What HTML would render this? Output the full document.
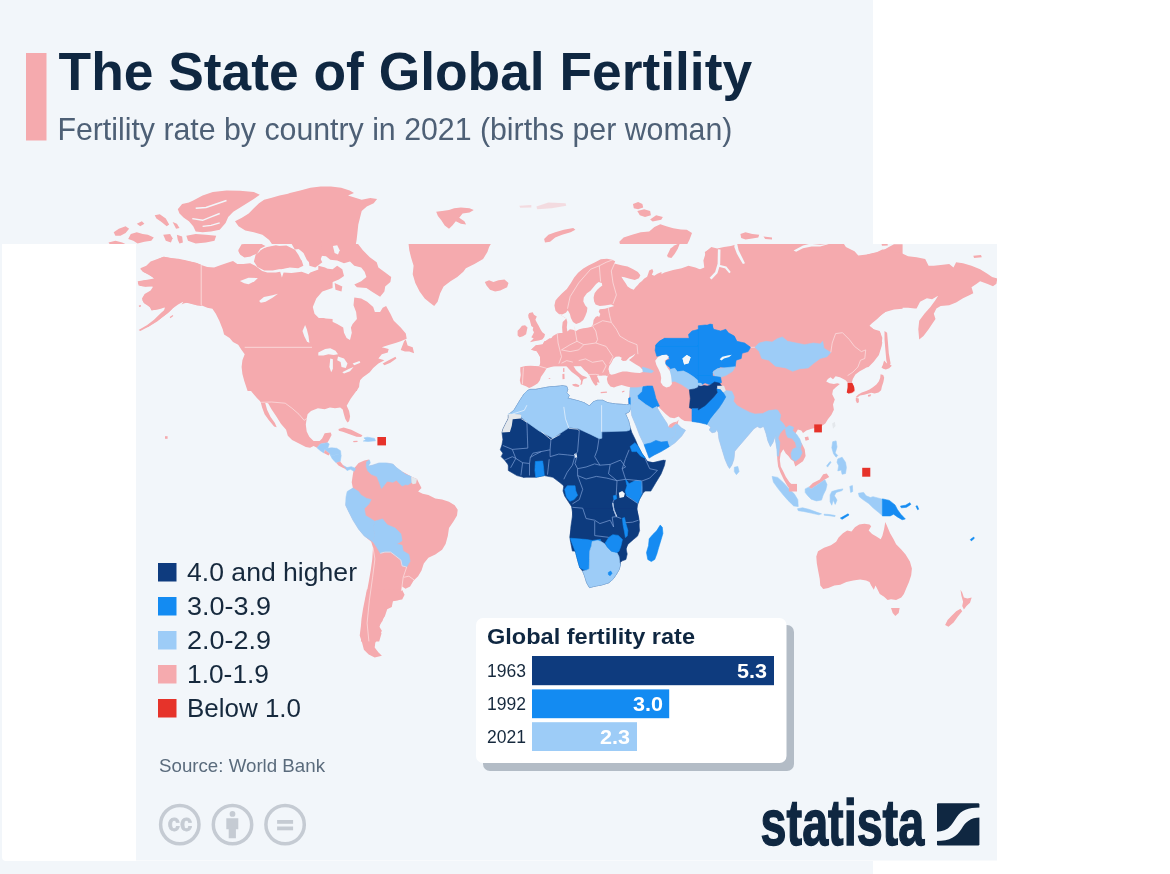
<!DOCTYPE html>
<html lang="en">
<head>
<meta charset="utf-8">
<title>The State of Global Fertility</title>
<style>
html,body{margin:0;padding:0;background:#ffffff;}
body{width:1170px;height:874px;overflow:hidden;position:relative;font-family:"Liberation Sans",sans-serif;}
svg{position:absolute;left:0;top:0;display:block;}
text{font-family:"Liberation Sans",sans-serif;}
.b{font-weight:bold;}
</style>
</head>
<body>
<svg width="1170" height="874" viewBox="0 0 1170 874">
<defs>
<clipPath id="cb"><rect x="0" y="0" width="873" height="244"/></clipPath>
<clipPath id="cf"><rect x="136" y="244" width="861" height="616.5"/></clipPath>
<filter id="soft" x="0" y="0" width="1170" height="874" filterUnits="userSpaceOnUse"><feGaussianBlur stdDeviation="0.45"/></filter>
<filter id="soft2" x="0" y="0" width="1170" height="874" filterUnits="userSpaceOnUse"><feGaussianBlur stdDeviation="0.7"/></filter>
</defs>
<!-- back image -->
<rect x="0" y="0" width="873" height="874" fill="#f2f6fa"/>
<g clip-path="url(#cb)"><g filter="url(#soft2)">
<polygon points="177.8,209.2 182.1,204.1 188.9,202.4 193.2,200.6 202.6,195.5 212.8,192.1 226.5,190.4 240.2,190.7 253.8,192.1 259.8,194.7 253.8,198.9 247.0,203.2 240.2,207.5 233.3,211.8 228.2,216.9 225.6,222.9 219.7,229.7 211.1,231.4 202.6,232.3 195.7,231.4 193.2,226.3 188.9,221.2 183.8,217.7 179.5,213.5" fill="#f5aaae"/>
<polygon points="186.3,235.7 195.7,234.0 206.0,234.8 216.2,235.7 214.5,240.8 206.0,242.5 195.7,243.4 188.0,240.8" fill="#f5aaae"/>
<polygon points="154.7,215.2 159.8,214.3 165.8,218.6 169.2,224.6 166.7,226.3 161.5,222.0 156.4,218.6" fill="#f5aaae"/>
<polygon points="172.6,222.0 176.9,223.7 179.5,228.0 176.1,228.8" fill="#f5aaae"/>
<polygon points="113.7,232.3 118.8,228.8 125.6,226.3 129.1,228.8 125.6,233.1 120.5,235.7 115.4,235.7" fill="#f5aaae"/>
<polygon points="130.8,234.0 136.8,232.3 142.7,234.0 147.9,234.8 153.8,237.4 151.3,240.8 144.4,241.7 137.6,243.4 133.3,240.8 128.2,239.1" fill="#f5aaae"/>
<polygon points="136.8,223.7 141.9,221.2 144.4,223.7 140.2,226.3" fill="#f5aaae"/>
<polygon points="163.2,234.8 170.1,234.0 172.6,238.2 170.9,242.5 165.8,240.8" fill="#f5aaae"/>
<polygon points="176.9,234.8 182.1,236.5 182.9,242.5 179.5,243.4 177.8,240.0" fill="#f5aaae"/>
<polygon points="108.5,242.5 115.4,240.8 122.2,242.5 127.4,245.1 110.3,245.1" fill="#f5aaae"/>
<polygon points="235.0,221.2 241.9,217.7 248.7,213.5 253.8,208.3 259.0,203.2 264.1,199.8 270.9,198.1 279.5,195.5 288.0,193.8 289.9,192.9 300.2,190.4 310.4,187.8 320.7,186.6 330.9,186.6 341.2,187.8 349.7,190.4 354.0,192.9 348.0,195.5 361.7,199.8 370.3,198.1 377.1,198.9 373.7,203.2 366.8,206.6 361.7,210.9 360.0,217.7 358.3,224.6 357.4,233.1 356.6,240.0 355.7,245.1 272.6,245.1 269.2,240.0 262.4,234.8 253.8,232.3 245.3,230.6 238.5,226.3" fill="#f5aaae"/>
<polygon points="436.2,211.8 442.1,210.9 449.0,210.0 454.1,208.3 460.9,207.5 469.5,208.3 473.8,210.0 469.5,212.6 462.6,213.5 459.2,217.7 464.4,221.2 466.1,224.6 460.9,223.7 455.8,221.2 452.4,225.4 449.0,228.8 444.7,225.4 441.3,220.3 437.9,216.0" fill="#f5aaae"/>
<polygon points="519.3,205.8 531.3,204.9 531.3,207.5 520.2,207.8" fill="#f5aaae" opacity="0.35"/>
<polygon points="536.4,206.6 548.4,202.4 565.5,203.2 566.3,205.8 551.8,208.3 537.3,209.2" fill="#f5aaae" opacity="0.35"/>
<polygon points="544.1,239.1 548.4,234.8 555.2,232.3 563.8,229.7 573.2,228.0 575.4,229.7 570.6,232.3 562.1,234.8 555.2,237.4 550.1,241.7 545.0,242.5" fill="#f5aaae"/>
<polygon points="633.0,204.1 638.1,202.0 642.4,204.1 643.2,207.5 638.1,209.2 633.8,208.3" fill="#f5aaae"/>
<polygon points="637.3,210.9 644.1,209.2 650.1,210.9 650.9,215.2 645.0,216.9 639.8,215.2" fill="#f5aaae"/>
<polygon points="650.1,219.4 656.1,215.2 662.9,216.9 661.2,219.8 652.6,221.5" fill="#f5aaae"/>
<polygon points="619.3,241.7 623.6,237.4 632.1,234.8 640.7,232.3 649.2,231.4 654.4,227.1 660.3,224.2 666.3,226.3 673.2,228.3 680.9,229.4 686.8,229.7 692.0,233.1 689.4,240.0 686.8,245.1 620.2,245.1" fill="#f5aaae"/>
<polygon points="740.4,234.0 745.5,232.3 752.3,234.0 759.2,234.8 758.3,237.4 752.3,238.6 745.5,239.6 741.2,237.9" fill="#f5aaae"/>
<polygon points="763.5,236.5 772.0,237.4 772.0,239.6 765.2,239.1" fill="#f5aaae"/>
<polyline points="195.7,208.3 206.0,207.5 216.2,204.1 226.5,200.6" fill="none" stroke="#f2f6fa" stroke-width="1.6"/>
<polyline points="192.3,218.6 202.6,220.3 211.1,216.9 219.7,213.5" fill="none" stroke="#f2f6fa" stroke-width="1.4"/>
<polyline points="202.6,226.3 211.1,225.4 219.7,222.9" fill="none" stroke="#f2f6fa" stroke-width="1.2"/>
</g></g>
<rect x="26" y="53" width="20.5" height="87.5" fill="#f5aaae"/>
<text class="b" x="58.6" y="90" font-size="53" fill="#0f2741" textLength="693.5" lengthAdjust="spacingAndGlyphs">The State of Global Fertility</text>
<text x="57.4" y="140.2" font-size="31.5" fill="#4e6076" textLength="675" lengthAdjust="spacingAndGlyphs">Fertility rate by country in 2021 (births per woman)</text>
<!-- white card -->
<path d="M2 244H1170V861H6a4 4 0 0 1-4-4Z" fill="#ffffff"/>
<!-- front image -->
<rect x="136" y="244" width="861" height="616.5" fill="#f2f6fa"/>
<g clip-path="url(#cf)"><g filter="url(#soft)">
<polygon points="201.2,264.9 195.2,262.7 186.7,260.9 178.1,259.2 171.2,258.0 163.5,256.7 157.5,258.9 150.6,261.5 146.3,265.8 140.3,268.3 142.9,271.8 148.9,274.3 154.0,278.6 147.2,279.8 137.7,281.2 138.6,285.5 145.5,286.7 153.2,286.4 150.6,290.6 144.6,294.1 142.0,298.4 143.7,302.7 148.9,305.2 151.5,310.4 157.5,308.7 162.6,307.0 166.9,307.8 160.9,313.0 154.0,319.8 147.2,325.0 138.6,330.1 140.3,331.0 148.9,326.4 157.5,321.2 166.1,314.3 172.9,308.3 178.1,304.4 183.2,301.8 186.7,302.7 193.5,304.4 201.2,305.2 207.3,307.8 212.4,308.7 215.8,313.8 219.3,320.7 222.7,329.3 224.1,334.4 229.6,337.9 233.0,342.1 238.2,344.7 241.6,349.9 244.7,354.2 242.4,360.2 241.6,367.0 242.4,373.9 244.2,380.8 247.6,391.1 332.6,391.1 332.6,319.0 318.8,318.1 314.5,313.8 312.8,307.0 316.3,298.4 322.3,291.5 332.6,288.1 332.6,269.2 324.0,268.3 317.1,270.0 310.3,272.6 308.5,274.3 301.7,271.8 291.4,273.0 283.6,272.6 281.9,277.4 280.2,271.8 275.9,272.6 267.3,272.6 262.2,270.9 255.3,265.8 250.2,263.2 243.3,264.0 237.3,264.0 233.0,260.9 226.1,263.2 221.0,264.9 214.1,267.5 207.3,267.1" fill="#f5aaae"/>
<polygon points="238.2,250.3 241.6,244.3 250.2,243.4 260.5,243.8 265.6,246.0 260.5,248.6 257.0,253.7 250.2,256.3 243.3,256.3 239.9,253.7" fill="#f5aaae"/>
<polygon points="257.0,256.3 260.5,250.3 267.3,246.9 275.9,245.2 284.5,246.9 291.4,252.0 294.8,257.2 301.7,260.6 303.4,265.8 298.2,268.3 289.7,267.5 281.1,269.2 272.5,268.3 265.6,265.8 260.5,261.5" fill="#f5aaae"/>
<polygon points="308.5,258.9 318.8,255.5 322.3,262.3 315.4,267.5 309.4,265.8" fill="#f5aaae"/>
<polygon points="291.4,243.4 301.7,242.6 303.4,248.6 294.8,249.4" fill="#f5aaae"/>
<polygon points="318.8,243.4 332.6,242.6 332.6,255.5 324.0,253.7" fill="#f5aaae"/>
<polygon points="408.4,242.6 409.3,250.3 411.0,257.2 413.6,265.8 412.7,274.3 415.3,282.9 419.6,291.5 424.7,298.4 429.9,302.7 434.2,306.1 437.6,301.8 440.2,293.2 443.6,286.4 450.5,281.2 457.3,276.9 463.3,271.8 465.9,268.3 474.5,264.0 483.1,258.9 487.4,252.0 489.1,246.9 491.7,242.6" fill="#f5aaae"/>
<polygon points="484.8,282.1 489.1,280.3 493.4,282.1 498.5,280.3 504.5,279.5 508.5,282.9 507.1,287.2 500.3,290.6 495.1,291.5 490.0,289.8 486.5,285.5" fill="#f5aaae"/>
<polygon points="318.3,242.6 356.9,242.6 362.9,250.3 369.8,257.2 376.7,262.3 378.4,267.5 385.2,272.6 391.2,276.9 390.4,282.1 385.2,286.4 384.4,291.5 380.1,296.7 373.2,292.4 366.4,288.1 356.9,287.2 354.3,284.6 361.2,281.2 366.4,276.9 364.6,271.8 361.2,267.5 354.3,265.8 350.0,261.5 344.0,263.2 337.2,260.6 330.3,259.7 326.0,256.3 318.3,255.5" fill="#f5aaae"/>
<polygon points="318.3,265.8 325.2,267.5 330.3,270.9 337.2,265.8 342.3,269.2 344.0,276.1 338.9,279.5 330.3,282.9 325.2,289.8 318.3,293.2" fill="#f5aaae"/>
<polygon points="334.6,282.9 342.3,286.4 341.5,291.5 335.5,289.8" fill="#f5aaae"/>
<polygon points="318.3,318.1 323.4,318.1 330.3,320.7 337.2,324.1 343.2,327.6 344.0,332.7 346.6,337.9 350.0,339.9 351.8,332.7 350.9,327.6 352.6,324.1 356.9,319.0 356.1,312.1 353.5,305.2 354.3,297.5 361.2,298.4 367.2,301.8 373.2,307.0 374.9,312.1 380.1,312.1 382.7,307.8 386.1,306.1 390.4,313.8 393.8,320.7 400.7,327.6 405.8,333.6 406.7,338.7 400.7,341.3 395.5,343.0 388.7,345.1 381.8,347.3 388.7,349.0 387.8,352.4 381.8,354.2 378.4,358.5 384.4,360.2 378.4,363.6 373.2,367.9 369.8,372.2 366.4,374.8 362.9,377.3 360.3,379.9 358.6,384.2 356.9,391.1 318.3,391.1" fill="#f5aaae"/>
<polygon points="400.7,349.9 404.1,341.3 405.8,339.6 407.6,345.6 412.7,347.3 414.1,353.3 409.3,351.6 405.0,351.6" fill="#f5aaae"/>
<polygon points="382.7,363.6 388.7,360.2 395.5,356.7 396.4,358.5 390.4,362.7 384.4,365.3" fill="#f5aaae"/>
<polygon points="244.0,378.3 247.5,386.0 251.8,392.0 256.9,398.0 261.2,402.3 268.1,403.2 271.5,409.2 276.7,416.9 280.9,423.8 286.1,429.8 287.8,435.8 292.1,440.1 299.0,443.5 305.8,447.0 310.1,447.8 313.6,446.1 317.0,447.8 320.4,443.9 327.3,442.7 329.0,440.1 331.6,434.9 330.7,432.4 324.7,433.2 322.1,438.4 319.6,440.9 313.6,440.9 309.3,436.7 306.7,431.5 305.8,424.6 306.7,418.6 307.6,414.3 311.0,410.9 317.9,408.3 324.7,409.2 329.9,407.5 335.0,408.3 340.2,407.5 342.7,409.5 343.9,414.3 345.3,419.1 347.4,422.4 349.1,421.2 350.1,416.4 349.1,410.9 346.7,405.8 350.5,398.9 355.6,392.0 359.1,386.9 359.9,378.3" fill="#f5aaae"/>
<polygon points="260.3,400.6 262.1,407.5 264.6,414.3 268.9,420.3 274.1,426.4 276.7,427.2 274.9,422.9 270.6,416.9 267.2,410.0 265.5,404.0 265.0,401.5" fill="#f5aaae"/>
<polygon points="338.5,428.9 343.6,427.4 351.3,429.8 358.2,433.2 362.5,435.3 361.1,437.0 356.5,436.7 349.6,434.2 342.7,431.8 338.8,430.8" fill="#f5aaae"/>
<polygon points="353.0,440.9 357.3,440.8 357.7,442.1 353.6,442.3" fill="#f5aaae"/>
<polygon points="354.0,468.6 358.6,462.9 364.3,460.6 368.9,459.5 370.0,462.9 367.8,466.3 372.3,465.2 379.2,462.9 386.1,462.9 392.9,464.0 396.4,467.5 400.9,470.9 405.5,473.2 411.2,476.6 417.0,478.9 419.2,483.5 421.5,488.1 418.1,491.5 422.7,493.8 428.4,494.9 435.3,498.4 442.1,499.5 449.0,501.8 454.7,505.2 457.7,509.8 457.0,515.5 453.6,521.2 449.0,528.1 447.8,536.1 445.6,544.1 442.1,549.8 435.3,554.4 428.4,557.8 423.8,563.6 421.5,570.4 418.1,576.2 413.5,580.7 410.1,586.5 405.5,588.7 402.1,586.5 401.4,591.0 403.2,596.8 398.6,600.2 392.9,601.3 391.8,607.0 387.2,609.3 384.9,616.2 381.5,620.8 379.2,627.6 381.5,633.4 379.2,641.4 360.9,641.4 362.0,629.9 364.3,620.8 364.3,607.0 366.2,595.6 368.7,581.9 370.7,570.4 372.3,559.0 373.0,547.6 371.2,541.8 364.3,536.1 358.6,529.2 352.9,520.1 348.3,510.9 345.6,505.2 346.5,497.2 348.3,491.5 352.9,488.1 351.7,482.3 352.9,474.3" fill="#f5aaae"/>
<polygon points="366.9,589.4 364.9,599.6 363.0,609.1 361.5,618.7 360.9,625.9 359.7,635.5 362.1,642.7 363.9,649.8 368.7,654.6 374.7,657.6 381.9,655.8 378.3,652.2 374.7,647.4 375.3,642.7 378.3,637.9 381.9,630.7 378.9,625.9 382.5,621.1 384.9,613.9 384.3,609.1 390.3,606.8 392.7,600.8 402.2,599.6 404.6,594.8 402.2,590.0" fill="#f5aaae"/>
<polygon points="539.4,366.4 540.4,362.6 539.9,356.4 536.8,351.2 531.1,349.7 535.8,345.6 542.6,344.7 544.3,341.3 549.5,340.4 552.9,336.1 557.2,333.6 560.0,333.0 655.1,333.0 655.1,276.1 661.1,274.3 664.5,272.6 673.1,270.0 681.7,268.3 688.5,265.8 695.4,267.5 704.0,270.9 712.6,269.2 712.6,365.3" fill="#f5aaae"/>
<polygon points="563.2,342.7 562.1,327.3 562.7,322.1 566.3,318.5 558.5,313.7 555.5,310.8 554.4,305.6 555.5,300.5 558.0,297.4 562.1,293.3 566.8,289.1 570.9,283.0 574.0,277.8 578.1,272.7 583.3,268.5 588.4,265.5 594.6,262.4 600.8,259.3 607.0,258.8 612.1,259.8 615.2,261.3 614.2,263.4 618.3,264.4 622.4,265.5 627.6,266.5 632.7,269.1 637.9,272.1 640.4,275.2 638.9,278.3 634.8,279.9 629.6,278.8 624.5,277.3 621.4,276.8 623.4,279.9 625.5,283.0 627.6,286.6 630.6,288.6 633.7,289.7 635.8,287.1 637.9,285.0 639.4,283.0 642.0,280.9 644.0,278.8 647.1,276.8 648.2,273.7 649.2,270.6 652.3,269.1 653.3,271.6 651.8,274.7 654.3,275.8 657.4,273.7 661.5,272.1 661.5,342.7" fill="#f5aaae"/>
<polygon points="529.2,313.0 532.7,312.3 534.0,314.7 536.8,316.4 535.4,319.8 536.8,322.6 538.8,326.0 540.6,329.4 542.3,332.2 545.0,334.2 544.3,337.0 542.3,339.4 538.8,340.4 535.4,341.1 532.0,341.8 529.9,342.3 532.0,340.1 533.7,338.4 531.3,337.3 532.7,334.9 534.0,332.2 532.7,330.1 533.3,327.4 531.3,326.0 530.6,323.3 529.9,320.5 528.5,317.8 528.2,315.0" fill="#f5aaae"/>
<polygon points="517.6,330.8 519.6,328.8 522.0,325.7 525.1,325.3 527.5,327.4 526.8,330.8 526.1,334.2 523.0,336.3 519.6,337.3 517.6,335.6" fill="#f5aaae"/>
<polygon points="667.1,255.5 670.5,248.6 674.8,245.2 680.0,243.1 677.9,248.6 674.8,253.7 671.4,258.0 667.9,257.2" fill="#f5aaae"/>
<polygon points="704.8,252.0 710.0,248.6 712.6,248.6 712.6,265.8 707.4,264.0" fill="#f5aaae"/>
<polygon points="549.5,338.3 544.3,341.7 542.6,344.3 535.8,345.2 531.1,349.8 536.8,351.3 539.9,356.5 540.4,362.7 539.4,366.3 530.6,365.8 525.5,365.9 520.3,367.3 520.3,370.9 520.8,375.0 519.8,380.2 520.8,384.3 523.4,385.3 526.5,386.4 529.1,387.9 531.6,386.9 534.7,385.3 537.8,383.3 539.9,380.2 540.9,377.1 543.0,374.0 545.0,370.9 546.6,368.3 550.2,367.3 553.3,366.3 556.4,365.8 559.4,364.2 561.5,363.2 563.6,363.9 566.1,365.8 568.7,368.8 571.8,371.9 575.9,375.0 579.0,377.6 581.1,380.7 580.6,384.3 580.0,385.3 582.1,384.3 582.6,381.2 583.6,379.1 585.7,378.6 587.3,378.1 586.2,377.1 582.1,375.5 579.0,373.0 575.9,369.9 573.3,365.8 571.6,362.1 571.8,359.6 574.4,358.5 577.0,362.1 580.6,365.8 584.2,369.9 587.3,372.4 588.8,374.5 589.8,376.1 591.4,379.7 593.4,383.3 595.5,385.8 597.6,384.8 597.0,382.2 599.6,382.7 598.6,379.7 597.0,376.1 599.1,375.0 601.7,375.5 604.8,374.0 607.9,373.0 610.4,372.4 607.9,375.5 606.8,379.1 607.9,383.3 610.4,386.4 614.0,387.4 616.4,386.4 621.6,385.0 626.7,386.4 630.2,387.2 629.8,391.5 628.8,398.4 628.1,403.5 630.2,404.4 630.7,407.8 631.7,415.5 636.0,425.8 639.6,435.3 644.1,444.7 647.3,453.3 649.1,458.1 654.2,455.0 661.1,451.6 667.9,447.3 674.8,443.0 681.7,436.1 685.5,430.3 681.2,427.7 677.7,424.3 678.6,419.5 675.2,424.3 671.7,427.7 668.3,426.9 667.1,423.4 664.8,420.0 661.4,414.8 657.6,408.5 658.0,406.3 661.4,409.7 665.7,414.0 670.0,417.4 674.3,418.3 678.6,416.6 681.2,419.1 684.6,420.9 692.0,421.5 698.8,422.4 705.7,424.1 712.6,425.8 712.6,338.3" fill="#f5aaae"/>
<polygon points="621.8,391.5 624.3,390.6 624.5,391.8 622.1,392.5" fill="#f5aaae"/>
<polygon points="600.6,392.0 606.8,391.5 607.0,392.7 600.8,393.2" fill="#f5aaae"/>
<polygon points="572.3,384.3 575.9,383.8 579.5,385.3 578.5,386.9 574.9,386.4 572.7,385.5" fill="#f5aaae"/>
<polygon points="562.4,374.0 564.4,373.8 564.6,379.1 562.5,379.3" fill="#f5aaae"/>
<polygon points="563.0,368.3 564.4,368.0 564.4,372.1 563.2,372.1" fill="#f5aaae"/>
<polygon points="548.6,378.3 550.2,377.9 550.3,378.8 548.8,379.0" fill="#f5aaae"/>
<polygon points="698.3,270.0 704.3,267.5 703.4,260.6 706.0,252.0 711.2,246.9 717.2,248.6 724.0,246.9 730.9,246.0 736.9,244.3 736.9,241.7 842.5,241.7 845.9,246.9 854.5,251.2 860.5,258.0 867.4,254.6 880.3,252.0 888.8,246.9 894.0,244.3 902.6,244.3 902.6,308.7 894.0,309.5 885.4,312.1 878.5,317.3 871.7,322.4 869.1,325.8 873.4,329.3 880.3,332.7 882.3,343.0 879.4,351.6 876.3,355.5 872.9,360.5 868.6,364.8 864.3,367.6 858.3,370.0 854.8,373.6 698.3,373.9" fill="#f5aaae"/>
<polygon points="884.5,331.0 887.1,332.7 888.0,343.0 888.8,353.3 890.6,363.6 888.0,367.0 886.3,360.2 885.4,349.9 884.5,339.6" fill="#f5aaae"/>
<polygon points="858.3,255.4 866.9,254.6 877.2,252.0 882.3,249.4 889.2,249.4 894.3,252.0 901.2,252.9 908.1,256.3 916.6,257.2 925.2,258.9 928.6,265.7 933.8,265.7 940.7,264.9 949.2,264.0 953.5,267.5 956.1,262.3 963.0,263.2 971.5,265.7 980.1,269.2 987.0,273.5 992.1,276.9 997.3,278.6 996.4,283.8 993.0,286.3 987.0,283.8 980.1,281.2 976.7,283.8 971.5,287.2 973.3,293.2 969.8,294.9 963.0,298.3 956.1,302.6 949.2,305.2 940.7,306.1 936.4,308.6 933.8,313.8 935.5,318.9 932.1,324.1 928.6,329.2 923.5,336.1 919.2,339.5 918.3,329.2 919.2,320.7 924.4,313.8 930.4,306.9 935.5,300.1 938.1,295.8 932.1,299.2 926.9,298.3 920.1,301.8 916.6,308.6 914.9,308.6 908.1,307.8 901.2,307.8 894.3,308.6 887.5,310.4 882.3,313.8 877.2,318.9 872.0,323.2 869.4,325.8 873.7,329.2 879.7,331.0 882.3,337.8 881.5,346.4 878.9,355.0 873.7,361.8 868.6,367.0 863.4,367.9 858.3,367.0" fill="#f5aaae"/>
<polygon points="881.5,243.8 887.5,243.4 887.8,245.5 882.0,245.7" fill="#f5aaae"/>
<polygon points="973.3,255.8 981.0,255.1 981.8,257.2 974.1,258.0" fill="#f5aaae"/>
<polygon points="698.3,358.3 871.7,358.3 869.1,365.2 864.8,368.6 859.7,371.2 855.4,374.6 852.8,378.9 851.9,382.3 854.5,387.5 854.5,391.8 851.1,393.5 848.0,393.5 847.3,389.2 848.5,384.0 845.9,380.6 843.3,378.9 839.9,377.2 835.6,376.3 833.0,379.2 830.5,377.2 827.9,378.9 826.2,381.5 829.6,383.2 833.9,384.0 837.3,383.2 839.9,384.0 835.6,387.5 833.0,390.0 832.2,394.3 834.8,399.5 833.0,404.6 833.9,409.8 831.3,414.9 827.9,419.2 825.3,423.5 820.2,427.0 811.6,428.7 806.4,430.4 803.0,433.0 801.3,430.4 797.9,429.5 795.3,433.8 798.7,439.0 802.1,444.1 804.7,449.3 805.6,456.1 803.0,461.3 797.9,464.7 795.3,466.4 793.6,461.3 791.0,459.6 788.4,456.1 785.8,453.6 783.3,449.3 780.7,453.6 779.8,459.6 780.7,466.4 783.3,471.6 785.8,476.7 789.3,481.9 793.6,486.2 796.1,490.5 791.0,490.5 787.6,486.2 784.1,480.2 780.7,473.3 778.1,466.4 777.3,459.6 776.9,449.3 775.5,440.7 775.5,435.5 773.0,442.4 770.4,446.7 767.8,440.7 766.1,433.8 764.4,428.7 763.5,426.6 760.1,428.0 757.3,426.6 753.9,428.7 750.5,432.8 746.4,437.6 742.2,442.4 738.1,447.2 734.7,451.3 734.0,458.9 731.9,465.1 729.5,468.5 727.8,465.8 725.1,459.6 723.0,452.7 720.9,445.8 718.9,439.0 718.2,432.8 716.8,429.4 715.5,432.1 712.0,432.8 709.3,430.0 710.6,427.3 707.9,424.5 705.8,423.9 702.4,420.4 696.9,418.4 696.9,411.5" fill="#f5aaae"/>
<polygon points="804.7,437.3 808.2,436.4 809.0,439.8 805.6,440.7" fill="#f5aaae"/>
<polygon points="880.6,374.3 880.2,377.8 878.9,381.2 876.4,384.6 872.9,387.2 869.5,389.4 866.1,391.1 861.8,392.5 858.3,394.5 855.8,397.1 857.0,397.7 860.0,395.6 864.3,394.7 867.8,393.8 871.2,392.7 874.6,393.6 878.5,392.4 881.1,390.2 881.9,386.4 883.4,382.1 884.2,377.8 883.2,375.0" fill="#f5aaae"/>
<polygon points="855.8,397.7 858.8,398.4 858.9,402.2 857.0,403.3 855.8,400.5" fill="#f5aaae"/>
<polygon points="867.8,395.1 871.2,394.2 870.5,396.3 868.3,396.8" fill="#f5aaae"/>
<polygon points="884.1,360.6 886.7,363.2 890.1,364.5 891.8,365.8 889.2,368.3 885.8,369.6 883.2,368.8 881.5,367.5 882.8,364.9" fill="#f5aaae"/>
<polygon points="808.6,487.2 812.9,482.9 819.8,479.5 823.2,474.3 826.7,473.5 829.2,476.9 824.9,479.5 821.5,482.1 816.4,485.5 811.2,488.9" fill="#f5aaae"/>
<polygon points="816.3,556.4 818.0,551.2 824.0,547.8 830.9,545.2 836.1,541.8 838.6,537.5 842.9,533.2 847.2,530.6 851.5,531.5 854.9,527.2 859.2,524.6 864.4,523.7 869.5,524.6 871.2,526.3 868.7,530.6 872.1,534.0 876.4,536.6 880.7,539.2 882.4,535.8 884.1,528.9 885.3,522.0 887.6,527.2 890.1,533.2 893.6,539.2 896.1,544.3 901.3,549.5 905.6,554.6 909.9,561.5 911.9,568.4 911.2,575.2 909.0,582.1 906.4,588.1 903.9,594.1 901.3,597.6 896.1,600.1 891.0,599.3 887.6,600.1 884.1,596.7 879.8,594.1 877.3,589.0 875.5,585.5 873.8,589.8 871.2,585.5 869.5,582.1 866.1,580.4 860.1,579.5 853.2,580.4 846.4,582.1 840.3,584.7 834.3,585.5 828.3,588.1 823.2,589.0 820.3,585.5 819.7,578.7 818.0,570.1 816.8,563.2" fill="#f5aaae"/>
<polygon points="891.0,607.9 899.6,607.9 898.7,613.0 895.3,616.1 892.7,613.0" fill="#f5aaae"/>
<polygon points="960.5,589.8 962.2,592.4 963.9,597.6 967.4,598.4 971.7,597.6 970.0,602.7 966.5,606.1 963.9,609.6 962.2,606.1 963.1,601.8 961.4,595.8" fill="#f5aaae"/>
<polygon points="960.5,608.7 962.2,611.3 957.9,616.4 953.6,622.4 948.5,626.7 945.1,625.0 947.6,619.9 951.9,615.6 956.2,611.3" fill="#f5aaae"/>
<polygon points="255.6,254.8 264.2,248.0 274.4,246.3 286.4,245.4 295.0,249.7 298.4,254.8 301.8,261.6 298.4,265.4 289.8,267.1 281.3,268.8 272.7,270.5 264.2,270.5 257.4,267.1 253.9,261.6" fill="#f5aaae"/>
<polygon points="293.2,242.8 320.6,242.8 323.2,253.1 319.7,261.6 312.1,265.1 306.9,259.9 303.5,253.1 298.4,248.8" fill="#f5aaae"/>
<polygon points="238.5,251.4 242.0,245.4 250.5,243.2 260.8,243.2 264.2,246.3 259.1,248.8 255.6,253.1 250.5,256.5 244.5,257.4 240.3,254.8" fill="#f5aaae"/>
<polygon points="201.6,264.9 197.0,262.9 191.8,261.8 185.6,260.3 178.4,258.8 171.2,258.2 164.0,256.7 159.9,258.2 155.8,260.3 151.6,262.4 147.5,265.5 144.4,268.0 140.3,269.1 143.4,272.1 148.5,274.7 153.7,277.8 155.8,279.9 150.6,280.4 145.5,279.9 140.3,281.4 137.7,283.0 140.3,286.1 145.5,286.6 150.6,285.5 153.7,287.1 154.2,290.2 149.6,292.2 145.5,294.3 142.9,297.4 142.4,300.5 144.4,303.6 147.5,305.6 150.6,307.7 152.1,310.3 156.8,309.7 160.9,308.7 165.0,307.2 164.0,310.8 160.9,314.9 156.8,319.0 151.6,323.1 146.5,326.7 144.4,327.5 148.0,326.9 153.7,323.3 158.8,319.7 164.0,316.1 168.1,313.0 171.2,310.0 174.3,306.3 177.4,302.7 180.5,300.5 183.6,301.5 181.5,304.6 183.6,303.6 187.7,302.5 191.8,303.6 197.0,305.6 201.6,306.1" fill="#f5aaae"/>
<polygon points="169.7,317.0 172.7,314.9 173.3,315.9 170.4,318.2" fill="#f5aaae"/>
<polygon points="138.8,305.6 140.8,305.1 141.1,306.4 139.1,306.9" fill="#f5aaae"/>
<polygon points="165.0,436.2 167.6,436.2 167.6,438.8 165.0,438.8" fill="#f5aaae"/>
<polygon points="508.3,415.0 514.1,410.0 517.2,404.9 520.3,399.7 524.4,393.6 527.5,390.5 530.6,389.4 535.8,389.4 540.9,388.4 549.1,386.9 556.4,386.4 562.5,385.8 566.7,386.4 567.7,389.4 566.7,392.5 569.2,395.6 567.7,398.2 571.8,399.2 578.0,400.8 584.2,402.8 589.3,405.9 593.4,401.8 597.6,400.3 602.7,400.3 607.9,402.8 615.1,403.9 622.3,404.4 626.4,404.9 630.2,404.4 630.7,407.8 629.1,411.8 625.4,413.8 628.5,420.7 630.2,427.6 631.9,432.7 635.3,439.6 638.2,446.4 641.8,453.3 645.5,458.5 647.3,461.5 652.5,462.7 659.4,461.9 665.4,460.2 664.5,465.3 661.1,473.9 655.9,482.5 650.8,491.1 565.8,491.1 564.9,486.8 559.8,482.5 552.9,477.3 544.3,475.6 535.8,477.3 523.7,477.3 516.9,475.6 508.3,470.5" fill="#0e3b7e" stroke="#0e3b7e" stroke-width="0.6" stroke-linejoin="round"/>
<polygon points="510.6,414.6 506.3,422.3 502.9,429.2 502.0,432.6 502.9,439.5 502.0,444.6 500.3,449.8 502.9,453.2 501.2,456.7 504.6,460.1 507.2,463.5 510.6,467.8 515.8,472.1 520.9,475.5 523.5,477.3 529.5,475.5 535.5,476.4 541.5,474.7 547.5,474.7 553.5,476.4 557.8,479.0 562.1,478.1 563.8,480.7 563.8,485.8 563.0,491.0 564.7,496.1 568.1,501.3 571.5,506.4 572.4,511.6 573.3,518.5 572.4,525.3 570.7,532.2 569.8,537.3 570.7,542.5 572.4,551.1 625.6,551.1 627.3,544.2 630.8,540.8 635.9,535.6 638.5,528.8 639.4,521.9 638.5,516.7 636.8,509.9 637.6,504.7 639.4,499.6 642.8,493.6 647.9,487.6 653.1,480.7 658.2,473.8 661.7,467.0 664.2,460.1 660.0,460.9 653.1,462.7 647.9,461.8 645.4,459.2 642.8,454.9 637.6,449.8 635.1,444.6 632.5,439.5 629.9,432.6 628.2,427.5 625.6,417.2 514.0,417.2" fill="#0e3b7e" stroke="#0e3b7e" stroke-width="0.6" stroke-linejoin="round"/>
<polygon points="570.9,540.2 573.0,545.7 575.7,552.6 577.8,560.8 579.8,567.7 582.6,571.1 584.6,575.9 586.7,582.8 589.5,587.6 594.9,586.2 601.8,584.9 608.7,582.8 612.8,579.4 616.2,574.6 619.0,569.8 620.4,564.9 620.4,562.2 622.4,560.8 625.9,559.5 627.2,554.0 625.9,548.5 627.9,544.3 633.4,539.5 637.5,536.1 639.6,530.6 638.9,523.7 638.2,516.9 636.8,508.6 573.0,508.6 572.3,516.9 570.9,526.5 570.2,536.1" fill="#0e3b7e" stroke="#0e3b7e" stroke-width="0.6" stroke-linejoin="round"/>
<polygon points="317.0,447.8 320.4,443.9 327.3,442.7 329.2,443.9 327.8,448.3 324.7,449.5 323.9,453.0 320.4,450.7" fill="#9dccf7" stroke="#9dccf7" stroke-width="0.6" stroke-linejoin="round"/>
<polygon points="327.8,448.3 331.6,447.8 336.7,448.3 340.5,450.7 341.0,455.5 336.7,454.2 332.4,455.9 329.9,453.8 327.3,451.8 324.7,449.5" fill="#9dccf7" stroke="#9dccf7" stroke-width="0.6" stroke-linejoin="round"/>
<polygon points="329.9,454.2 332.4,455.9 336.7,454.2 341.2,455.5 340.2,461.5 336.1,462.7 332.4,459.0" fill="#9dccf7" stroke="#9dccf7" stroke-width="0.6" stroke-linejoin="round"/>
<polygon points="343.3,465.5 347.0,467.6 351.3,466.7 355.6,468.4 354.2,471.3 350.5,469.3 347.0,470.5 345.3,468.4" fill="#9dccf7" stroke="#9dccf7" stroke-width="0.6" stroke-linejoin="round"/>
<polygon points="363.9,437.9 367.6,437.2 374.5,438.4 375.4,440.8 368.0,441.5 363.3,441.1 365.9,439.7" fill="#9dccf7" stroke="#9dccf7" stroke-width="0.6" stroke-linejoin="round"/>
<polygon points="366.6,461.7 369.4,459.9 370.3,462.9 368.0,466.1 372.3,465.2 379.2,462.9 386.1,462.9 392.9,464.0 396.4,467.5 400.9,470.9 398.6,474.3 396.8,480.0 392.9,482.3 387.2,481.2 383.8,485.8 381.5,488.5 379.2,482.3 376.9,476.6 371.2,474.3 367.8,470.9 366.2,466.3" fill="#9dccf7" stroke="#9dccf7" stroke-width="0.6" stroke-linejoin="round"/>
<polygon points="396.8,469.3 400.9,470.9 405.5,474.3 411.2,476.6 411.5,482.6 407.8,484.9 405.5,484.6 402.1,486.0 398.6,482.6 396.4,480.0 397.7,474.3" fill="#9dccf7" stroke="#9dccf7" stroke-width="0.6" stroke-linejoin="round"/>
<polygon points="411.2,476.6 417.0,478.9 416.0,483.5 412.8,484.2 411.5,482.6" fill="#e4e8ec"/>
<polygon points="347.2,491.5 352.9,488.1 358.6,491.5 360.9,494.9 366.6,498.4 371.2,499.5 368.9,504.1 364.3,508.6 365.5,515.5 371.2,518.9 374.6,521.2 373.5,528.1 374.6,533.8 373.0,541.8 364.3,536.1 358.6,529.2 352.9,520.1 348.3,510.9 345.6,505.2 346.0,497.2" fill="#9dccf7" stroke="#9dccf7" stroke-width="0.6" stroke-linejoin="round"/>
<polygon points="374.6,521.2 382.6,518.9 387.2,524.7 395.2,528.1 400.9,533.8 402.1,540.7 396.8,544.1 402.1,545.3 403.2,551.0 408.9,554.4 410.1,561.3 406.7,567.0 402.1,565.9 400.9,560.1 395.2,555.6 390.6,552.1 384.9,552.1 380.3,553.3 376.9,547.6 373.0,541.8 374.6,533.8 373.5,528.1" fill="#9dccf7" stroke="#9dccf7" stroke-width="0.6" stroke-linejoin="round"/>
<polygon points="655.9,344.8 659.4,341.4 664.5,338.3 712.6,338.3 712.6,382.9 707.4,381.2 702.3,384.6 698.8,381.2 693.7,376.9 688.5,373.5 683.4,370.9 677.4,371.8 674.8,368.3 670.5,369.2 669.7,367.5 665.4,364.0 666.2,360.6 669.7,358.9 667.1,354.6 661.1,355.5 656.8,356.3 655.1,350.3" fill="#138bf2" stroke="#138bf2" stroke-width="0.6" stroke-linejoin="round"/>
<polygon points="670.5,369.2 674.8,368.3 677.4,371.8 683.4,370.9 688.5,373.5 693.7,376.9 698.8,381.2 702.3,384.6 698.8,387.2 694.5,388.9 689.4,389.8 681.7,384.6 674.8,381.2 670.5,382.1 671.4,377.8 668.8,372.6" fill="#9dccf7" stroke="#9dccf7" stroke-width="0.6" stroke-linejoin="round"/>
<polygon points="642.4,367.1 645.8,368.0 650.1,369.4 653.5,371.1 651.8,372.8 648.4,372.3 644.9,371.9 642.7,371.9" fill="#9dccf7" stroke="#9dccf7" stroke-width="0.6" stroke-linejoin="round"/>
<polygon points="630.2,387.7 637.0,387.7 643.0,386.7 642.2,391.5 637.9,395.8 638.8,399.2 633.6,402.7 632.7,407.0 630.7,407.8 630.2,404.4 630.2,397.5 629.8,391.5" fill="#9dccf7" stroke="#9dccf7" stroke-width="0.6" stroke-linejoin="round"/>
<polygon points="628.5,398.4 630.2,397.5 630.3,404.4 629.1,406.6" fill="#138bf2" stroke="#138bf2" stroke-width="0.6" stroke-linejoin="round"/>
<polygon points="643.0,386.7 647.3,386.0 652.5,386.0 654.2,391.5 655.9,398.4 659.4,406.1 656.8,406.6 652.5,408.7 645.6,404.4 638.8,399.2 637.9,395.8 642.2,391.5" fill="#138bf2" stroke="#138bf2" stroke-width="0.6" stroke-linejoin="round"/>
<polygon points="630.7,407.8 632.7,407.0 633.6,402.7 638.8,399.2 645.6,404.4 652.5,408.7 656.8,406.6 657.6,408.5 661.4,414.8 664.8,420.0 667.1,423.4 668.3,426.9 671.7,427.7 675.7,429.3 674.8,436.1 667.9,441.3 661.1,442.1 655.9,440.4 650.8,443.0 646.5,443.9 644.1,444.7 639.6,435.3 636.0,425.8 631.7,415.5" fill="#9dccf7" stroke="#9dccf7" stroke-width="0.6" stroke-linejoin="round"/>
<polygon points="646.5,443.9 650.8,443.0 655.9,440.4 661.1,442.1 667.9,441.3 669.7,446.4 661.1,451.6 654.2,455.0 649.1,458.1 647.3,453.3 644.1,444.7" fill="#138bf2" stroke="#138bf2" stroke-width="0.6" stroke-linejoin="round"/>
<polygon points="671.7,427.7 675.2,424.3 677.7,424.3 681.2,427.7 685.5,430.3 681.7,436.1 674.8,443.0 669.7,446.4 667.9,441.3 674.8,436.1 675.7,429.3" fill="#9dccf7" stroke="#9dccf7" stroke-width="0.6" stroke-linejoin="round"/>
<polygon points="689.4,389.8 694.5,388.9 698.8,387.2 704.0,385.5 710.0,386.4 712.6,385.5 712.6,396.7 707.4,401.8 702.3,406.1 697.1,408.7 692.0,408.7 689.4,407.8 690.3,398.4" fill="#0e3b7e" stroke="#0e3b7e" stroke-width="0.6" stroke-linejoin="round"/>
<polygon points="692.0,408.7 697.1,408.7 702.3,406.1 707.4,401.8 712.6,396.7 712.6,425.8 705.7,424.1 698.8,422.4 692.0,421.5 692.0,415.5" fill="#138bf2" stroke="#138bf2" stroke-width="0.6" stroke-linejoin="round"/>
<polygon points="508.3,415.0 514.1,410.0 517.2,404.9 520.3,399.7 524.4,393.6 527.5,390.5 530.6,389.4 535.8,389.4 540.9,388.4 549.1,386.9 556.4,386.4 562.5,385.8 566.7,386.4 567.7,389.4 566.7,392.5 569.2,395.6 567.7,398.2 571.8,399.2 578.0,400.8 584.2,402.8 589.3,405.9 593.4,401.8 597.6,400.3 602.7,400.3 607.9,402.8 615.1,403.9 622.3,404.4 626.4,404.9 630.2,404.4 630.7,407.8 629.1,411.8 625.4,413.8 628.5,420.7 630.2,427.6 629.8,430.1 626.7,431.0 601.8,431.8 601.8,438.2 599.3,438.7 590.7,434.4 579.5,429.3 577.8,428.4 569.2,427.6 559.8,433.6 552.9,438.2 539.2,431.0 527.2,422.4 521.2,417.3 520.6,414.2 508.3,413.8" fill="#9dccf7" stroke="#9dccf7" stroke-width="0.6" stroke-linejoin="round"/>
<polygon points="508.3,413.8 520.6,414.2 521.2,417.3 515.2,418.3 508.3,419.3" fill="#e4e8ec"/>
<polygon points="535.4,461.5 542.6,461.0 543.5,467.0 544.3,475.6 535.8,477.3 534.9,470.5" fill="#138bf2" stroke="#138bf2" stroke-width="0.6" stroke-linejoin="round"/>
<polygon points="630.2,446.4 635.0,442.7 638.2,446.4 641.8,453.3 645.5,458.5 640.5,455.9 636.7,451.6 631.9,451.6" fill="#138bf2" stroke="#138bf2" stroke-width="0.6" stroke-linejoin="round"/>
<polygon points="655.9,345.1 659.4,341.3 664.5,338.7 671.4,339.6 678.2,342.1 685.1,340.4 689.4,339.6 688.5,334.4 692.0,331.0 698.8,329.3 704.0,326.7 710.0,324.1 712.6,324.5 712.6,346.4 655.9,346.4" fill="#138bf2" stroke="#138bf2" stroke-width="0.6" stroke-linejoin="round"/>
<polygon points="698.3,325.8 705.2,325.0 712.0,325.8 713.7,329.3 720.6,331.0 725.8,329.3 728.3,332.7 734.3,336.1 736.9,341.3 744.6,343.0 750.6,347.3 748.1,351.6 742.1,353.3 741.2,358.5 736.1,360.2 735.2,366.7 727.5,367.9 720.6,367.0 713.7,370.5 710.3,375.6 698.3,375.6" fill="#138bf2" stroke="#138bf2" stroke-width="0.6" stroke-linejoin="round"/>
<polygon points="712.9,372.2 717.2,368.8 724.0,367.9 735.2,366.7 732.6,371.3 725.8,375.6 720.6,377.3 715.5,376.5" fill="#9dccf7" stroke="#9dccf7" stroke-width="0.6" stroke-linejoin="round"/>
<polygon points="698.3,375.6 710.3,375.6 715.5,376.5 720.6,377.3 721.5,382.5 715.5,385.1 708.6,384.2 704.3,382.5 698.3,382.5" fill="#138bf2" stroke="#138bf2" stroke-width="0.6" stroke-linejoin="round"/>
<polygon points="754.9,347.3 759.2,343.0 766.1,341.3 772.1,342.1 777.3,338.7 782.4,337.0 787.6,341.3 796.1,343.0 804.7,344.7 813.3,343.0 820.2,343.9 822.7,341.3 823.9,348.2 830.8,352.4 827.0,356.7 820.2,358.5 813.3,363.6 808.2,367.9 799.6,368.8 792.7,371.3 785.8,367.9 775.5,366.2 768.7,360.2 761.8,358.5 759.2,351.6" fill="#9dccf7" stroke="#9dccf7" stroke-width="0.6" stroke-linejoin="round"/>
<polygon points="832.2,423.5 834.8,421.8 835.6,426.1 833.0,428.7" fill="#e4e8ec"/>
<polygon points="706.9,424.2 710.3,418.4 714.6,413.2 718.9,408.1 722.3,402.9 725.8,396.9 723.2,392.6 725.8,390.6 731.8,391.2 734.3,396.9 733.5,401.2 736.9,405.5 742.9,408.9 749.8,412.4 754.9,414.1 762.7,413.6 768.7,410.6 775.5,409.8 777.6,410.1 780.7,414.9 779.8,420.1 783.3,423.5 785.8,427.8 782.4,430.4 779.8,433.8 778.1,438.1 779.8,442.4 779.3,449.3 778.6,456.1 777.3,456.1 776.9,449.3 775.5,440.7 775.5,435.5 773.0,442.4 770.4,446.7 767.8,440.7 766.1,433.8 764.4,428.7 763.5,426.6 760.1,428.0 757.3,426.6 753.9,428.7 750.5,432.8 746.4,437.6 742.2,442.4 738.1,447.2 734.7,451.3 734.0,458.9 731.9,465.1 729.5,468.5 727.8,465.8 725.1,459.6 723.0,452.7 720.9,445.8 718.9,439.0 718.2,432.8 716.8,429.4 715.5,432.1 712.0,432.8 709.3,430.0 710.6,427.3 707.9,424.5" fill="#9dccf7" stroke="#9dccf7" stroke-width="0.6" stroke-linejoin="round"/>
<polygon points="734.3,467.3 737.8,466.4 739.1,471.6 736.4,474.7 734.3,471.6" fill="#9dccf7" stroke="#9dccf7" stroke-width="0.6" stroke-linejoin="round"/>
<polygon points="785.3,428.3 789.3,425.6 793.6,427.3 792.7,430.7 796.5,434.2 799.9,439.3 801.6,444.5 800.6,447.9 796.5,447.2 795.5,442.7 792.0,438.3 787.9,437.6 786.2,434.2" fill="#9dccf7" stroke="#9dccf7" stroke-width="0.6" stroke-linejoin="round"/>
<polygon points="791.0,453.6 792.7,449.3 796.1,447.6 800.4,447.9 802.1,452.7 799.6,457.9 795.3,461.3 791.8,458.7" fill="#9dccf7" stroke="#9dccf7" stroke-width="0.6" stroke-linejoin="round"/>
<polygon points="698.3,409.8 705.2,405.5 709.4,401.2 713.7,396.9 717.2,392.6 716.3,388.3 720.6,389.2 723.2,392.6 725.8,396.9 722.3,402.9 718.9,408.1 714.6,413.2 710.3,418.4 706.9,424.2 702.4,420.4 696.9,418.4" fill="#138bf2" stroke="#138bf2" stroke-width="0.6" stroke-linejoin="round"/>
<polygon points="698.3,385.8 705.2,387.5 710.3,384.9 714.6,382.0 719.7,383.2 721.5,385.8 716.3,388.3 717.2,392.6 713.7,396.9 709.4,401.2 705.2,405.5 698.3,409.8" fill="#0e3b7e" stroke="#0e3b7e" stroke-width="0.6" stroke-linejoin="round"/>
<polygon points="717.2,385.8 724.0,385.8 725.8,390.6 723.2,392.6 720.6,389.2 717.2,388.8" fill="#e4e8ec"/>
<polygon points="772.1,476.4 777.7,477.4 783.7,482.9 789.2,488.9 794.4,494.1 797.8,499.7 798.2,506.6 793.7,505.9 788.0,500.4 782.9,494.6 777.7,488.1 773.4,482.1" fill="#9dccf7" stroke="#9dccf7" stroke-width="0.6" stroke-linejoin="round"/>
<polygon points="805.2,488.9 808.6,487.2 811.2,488.9 816.4,485.5 821.5,482.1 824.9,479.8 827.0,484.6 825.8,489.8 823.2,494.9 821.5,500.1 816.4,500.9 811.2,499.2 807.8,495.8 805.2,492.4" fill="#9dccf7" stroke="#9dccf7" stroke-width="0.6" stroke-linejoin="round"/>
<polygon points="797.5,508.7 802.6,507.8 809.5,509.5 816.4,512.1 821.5,513.8 818.9,514.8 811.2,513.1 803.5,511.4 798.3,510.7" fill="#9dccf7" stroke="#9dccf7" stroke-width="0.6" stroke-linejoin="round"/>
<polygon points="824.1,514.2 829.2,514.5 835.2,515.5 834.9,516.6 829.2,515.7 824.2,515.2" fill="#9dccf7" stroke="#9dccf7" stroke-width="0.6" stroke-linejoin="round"/>
<polygon points="840.4,518.1 848.1,513.8 849.0,515.0 842.1,519.3" fill="#138bf2" stroke="#138bf2" stroke-width="0.6" stroke-linejoin="round"/>
<polygon points="830.1,494.9 831.8,491.5 837.8,489.8 843.0,488.9 842.1,490.6 836.1,492.4 834.4,495.8 837.0,500.1 835.2,504.4 833.2,500.1 831.8,505.2 830.1,501.8" fill="#9dccf7" stroke="#9dccf7" stroke-width="0.6" stroke-linejoin="round"/>
<polygon points="832.7,441.7 836.1,440.9 837.0,446.9 835.2,452.9 837.8,455.5 836.1,457.2 833.5,453.7 831.8,447.7" fill="#9dccf7" stroke="#9dccf7" stroke-width="0.6" stroke-linejoin="round"/>
<polygon points="837.8,458.9 842.1,457.2 845.5,462.3 846.4,467.5 845.5,473.5 842.1,474.3 841.2,470.0 837.8,470.9 838.7,465.8 837.0,462.3" fill="#9dccf7" stroke="#9dccf7" stroke-width="0.6" stroke-linejoin="round"/>
<polygon points="826.7,465.8 830.1,461.5 831.1,462.3 827.5,467.1" fill="#9dccf7" stroke="#9dccf7" stroke-width="0.6" stroke-linejoin="round"/>
<polygon points="849.8,486.4 852.4,485.5 852.7,491.5 850.7,492.4" fill="#9dccf7" stroke="#9dccf7" stroke-width="0.6" stroke-linejoin="round"/>
<polygon points="858.4,493.2 863.6,492.4 866.1,495.8 870.4,497.5 873.0,496.7 882.4,499.2 882.4,515.5 878.2,512.1 873.0,507.8 868.7,503.5 863.6,500.1 859.3,496.7" fill="#9dccf7" stroke="#9dccf7" stroke-width="0.6" stroke-linejoin="round"/>
<polygon points="882.4,498.9 889.3,500.4 895.0,504.9 897.4,509.5 900.8,514.2 905.3,519.0 902.2,519.7 897.4,516.9 893.6,514.2 890.2,515.9 882.4,515.9" fill="#138bf2" stroke="#138bf2" stroke-width="0.6" stroke-linejoin="round"/>
<polygon points="900.5,506.1 905.6,505.2 909.9,502.7 910.8,504.4 906.5,507.3 901.3,507.8" fill="#138bf2" stroke="#138bf2" stroke-width="0.6" stroke-linejoin="round"/>
<polygon points="915.9,506.1 917.3,505.8 918.7,509.2 917.6,509.7" fill="#138bf2" stroke="#138bf2" stroke-width="0.6" stroke-linejoin="round"/>
<polygon points="970.3,539.5 973.7,537.1 974.4,538.2 971.3,540.9" fill="#138bf2" stroke="#138bf2" stroke-width="0.6" stroke-linejoin="round"/>
<polygon points="510.6,414.8 521.2,415.1 520.9,418.5 512.7,419.2 511.8,425.8 509.9,431.9 502.0,432.6 502.9,429.2 506.3,422.3" fill="#e4e8ec"/>
<polygon points="625.6,479.3 629.1,483.8 635.9,480.3 641.4,481.0 642.1,487.6 641.9,493.6 637.6,503.3 632.5,499.6 626.5,495.8 625.3,491.0 627.0,485.8" fill="#138bf2" stroke="#138bf2" stroke-width="0.6" stroke-linejoin="round"/>
<polygon points="613.3,495.8 616.2,495.3 616.7,498.7 613.9,499.9" fill="#138bf2" stroke="#138bf2" stroke-width="0.6" stroke-linejoin="round"/>
<polygon points="564.7,489.3 567.3,485.8 575.0,485.8 575.8,491.0 577.6,495.3 574.1,499.6 569.8,501.3 566.4,497.0" fill="#138bf2" stroke="#138bf2" stroke-width="0.6" stroke-linejoin="round"/>
<polygon points="570.5,538.2 581.2,539.1 586.7,539.5 592.2,540.5 600.4,539.4 600.7,540.8 592.2,541.9 591.5,545.7 589.7,551.2 589.5,559.5 589.2,569.1 586.0,570.4 582.6,569.3 579.8,567.7 577.8,560.8 575.7,552.6 573.0,545.7 570.9,540.2" fill="#138bf2" stroke="#138bf2" stroke-width="0.6" stroke-linejoin="round"/>
<polygon points="592.2,541.6 597.7,540.5 601.1,541.6 604.6,543.7 607.3,547.1 611.4,551.2 616.9,552.6 619.0,556.7 619.7,562.2 620.4,564.9 619.0,569.8 616.2,574.6 612.8,579.4 608.7,582.8 601.8,584.9 594.9,586.2 589.5,587.6 586.7,582.8 584.6,575.9 582.6,571.1 586.0,570.4 589.2,569.1 589.5,559.5 589.7,551.2 591.5,545.7" fill="#9dccf7" stroke="#9dccf7" stroke-width="0.6" stroke-linejoin="round"/>
<polygon points="605.2,543.0 608.7,537.5 612.8,534.7 618.3,535.4 622.4,539.5 621.0,545.7 619.0,551.2 616.9,552.6 611.4,551.2 607.3,547.1" fill="#138bf2" stroke="#138bf2" stroke-width="0.6" stroke-linejoin="round"/>
<polygon points="622.4,518.2 624.5,517.6 625.9,523.7 627.9,530.6 627.2,536.1 625.4,537.5 624.5,532.0 623.1,525.1" fill="#138bf2" stroke="#138bf2" stroke-width="0.6" stroke-linejoin="round"/>
<polygon points="660.2,525.1 662.3,527.2 662.9,533.4 660.9,540.2 658.8,547.1 656.8,554.0 654.7,559.5 651.3,561.5 647.8,559.5 646.5,552.6 648.5,545.7 649.2,538.8 652.6,534.7 656.8,530.6" fill="#138bf2" stroke="#138bf2" stroke-width="0.6" stroke-linejoin="round"/>
<polygon points="323.9,453.0 325.1,450.0 329.9,453.8 328.5,455.5" fill="#f5aaae"/>
<polygon points="336.1,462.7 340.2,461.5 343.3,465.5 346.7,469.6 342.2,467.6 338.5,465.5" fill="#f5aaae"/>
<polygon points="668.3,426.9 671.7,427.7 675.2,424.3 677.2,421.4 673.1,422.4 669.7,424.5" fill="#f5aaae"/>
<polygon points="608.3,572.5 610.7,571.1 612.1,573.2 610.1,575.7 608.4,574.6" fill="#138bf2" stroke="#138bf2" stroke-width="0.6" stroke-linejoin="round"/>
<polygon points="239.9,280.9 248.5,277.8 257.9,278.1 254.5,281.2 248.5,284.3 244.2,283.3" fill="#f2f6fa"/>
<polygon points="259.1,300.9 263.9,297.0 272.5,295.3 278.0,293.7 272.5,297.7 265.6,301.8 260.8,302.8" fill="#f2f6fa"/>
<polygon points="302.5,331.0 305.1,325.0 306.8,329.3 308.5,336.1 309.4,343.0 306.8,341.3 304.2,336.1" fill="#f2f6fa"/>
<polygon points="332.9,246.0 337.2,245.2 339.7,250.3 338.0,254.6 334.6,252.9" fill="#f2f6fa"/>
<polygon points="318.3,352.4 325.2,349.0 330.3,348.2 335.5,350.7 338.0,354.2 333.7,355.0 328.6,354.2 323.4,355.4 318.3,355.4" fill="#f2f6fa"/>
<polygon points="330.3,358.5 332.9,359.3 332.9,368.8 331.2,372.2 329.4,367.0" fill="#f2f6fa"/>
<polygon points="338.0,356.4 344.0,358.5 347.5,363.6 345.8,367.9 341.5,367.0 340.6,361.9 337.2,360.2" fill="#f2f6fa"/>
<polygon points="342.3,372.2 349.2,368.8 353.5,367.0 350.0,371.3 344.0,373.6" fill="#f2f6fa"/>
<polygon points="352.6,363.6 359.5,361.0 360.3,362.7 354.3,365.3" fill="#f2f6fa"/>
<polygon points="558.5,313.7 562.1,314.4 565.8,312.8 567.8,310.3 569.9,313.9 570.9,318.0 573.0,322.1 576.1,324.0 580.2,322.6 583.3,320.0 585.3,315.9 586.9,311.8 587.4,307.7 585.3,305.6 583.3,301.5 583.8,297.4 586.9,293.3 590.5,290.7 593.6,287.1 596.1,284.0 598.7,281.9 601.8,283.0 602.3,285.5 599.7,287.6 597.2,289.7 594.6,293.3 593.6,297.4 594.1,301.5 595.6,304.6 599.7,306.1 604.9,305.6 611.1,304.6 614.2,306.1 610.0,307.2 604.9,308.7 599.7,309.2 598.7,311.8 600.3,313.9 599.2,317.0 597.7,315.9 595.6,317.0 593.6,320.0 593.0,324.2 591.5,326.7 587.4,327.8 583.3,328.3 579.1,329.3 576.1,330.9 573.0,329.8 569.9,329.3 567.3,331.4 566.8,327.3 567.3,322.1 566.3,318.5" fill="#f2f6fa"/>
<polygon points="608.4,369.4 609.2,365.9 611.5,362.5 613.2,359.1 615.8,356.8 619.2,356.5 621.8,357.7 620.9,359.4 623.0,361.1 626.1,360.8 627.8,359.1 629.5,357.3 632.9,355.6 635.5,353.4 633.8,356.0 631.2,358.2 629.0,359.9 631.2,361.6 635.5,364.2 639.8,366.8 642.4,369.4 642.7,371.9 639.8,373.1 635.5,372.8 631.2,372.3 626.9,371.4 622.6,371.4 618.3,372.8 614.9,374.0 611.5,374.8 608.9,373.6" fill="#f2f6fa"/>
<polygon points="655.2,360.8 657.8,357.3 662.1,355.1 666.4,354.8 669.0,356.8 667.3,359.1 664.7,360.8 665.5,364.2 667.3,367.6 669.8,371.1 671.0,375.4 671.5,379.7 671.9,383.9 669.8,386.5 666.4,387.4 663.0,385.7 660.7,382.2 661.2,377.9 660.4,373.6 658.7,369.4 656.4,365.1" fill="#f2f6fa"/>
<polygon points="682.5,358.5 686.8,355.1 690.6,357.2 688.5,363.2 684.2,364.4" fill="#f2f6fa"/>
<polygon points="682.5,358.5 686.8,355.1 690.6,357.2 688.5,363.2 684.2,364.4" fill="#f2f6fa"/>
<polygon points="736.9,242.4 738.6,250.3 742.1,257.2 745.0,263.2 742.9,264.0 740.3,259.7 736.9,253.7 734.3,246.9 734.8,242.4" fill="#f2f6fa"/>
<polygon points="793.6,250.6 803.0,245.5 809.9,243.8 820.2,244.8 830.5,243.4 820.2,246.5 811.6,246.5 803.0,248.2 796.1,251.7" fill="#f2f6fa"/>
<polygon points="719.7,359.3 722.3,356.7 727.5,355.4 731.8,354.7 729.2,357.1 724.0,358.5 721.5,360.5" fill="#f2f6fa"/>
<polygon points="618.8,492.7 622.2,491.0 624.8,493.6 623.9,497.0 619.6,497.9" fill="#f2f6fa"/>
<polygon points="574.1,454.1 576.4,453.2 577.2,457.5 575.0,457.7" fill="#f2f6fa"/>
<polygon points="598.6,372.8 608.4,369.4 609.7,373.6 607.2,376.2 605.8,375.4 602.0,375.4 598.6,375.7" fill="#f5aaae"/>
<polygon points="377.4,437.0 386.0,437.0 386.0,445.4 377.4,445.4" fill="#e6332a"/>
<polygon points="814.2,424.4 821.9,424.4 821.9,432.4 814.2,432.4" fill="#e6332a"/>
<polygon points="862.2,467.8 870.3,467.8 870.3,476.7 862.2,476.7" fill="#e6332a"/>
<polygon points="788.9,483.9 797.0,483.9 797.0,491.5 788.9,491.5" fill="#f5aaae"/>
<polygon points="847.6,382.9 852.3,382.9 854.0,386.4 854.5,390.6 852.3,392.5 848.5,393.4 846.7,392.5 847.6,388.1" fill="#e6332a"/>
<polyline points="201.2,264.9 201.2,305.2" fill="none" stroke="#fbe3e4" stroke-width="0.8"/>
<polyline points="244.7,347.3 312.0,347.3" fill="none" stroke="#fbe3e4" stroke-width="0.8"/>
<polyline points="261.2,402.3 271.5,402.0 285.2,403.2 292.1,408.3 299.0,414.3 304.1,420.3 306.7,418.6" fill="none" stroke="#fbe3e4" stroke-width="0.7"/>
<polyline points="373.0,547.6 374.9,559.0 372.6,577.3 369.4,600.2 367.1,623.1 368.9,641.4" fill="none" stroke="#fbe3e4" stroke-width="0.7"/>
<polyline points="380.3,553.3 384.9,552.1 390.6,552.1 395.2,555.6 400.9,560.1 402.1,565.9 406.7,567.0 403.2,577.3 401.4,591.0" fill="none" stroke="#fbe3e4" stroke-width="0.7"/>
<polyline points="403.7,577.3 408.9,576.2 414.2,580.0" fill="none" stroke="#fbe3e4" stroke-width="0.7"/>
<polyline points="719.2,249.4 718.9,264.0 716.3,272.6 710.6,278.6" fill="none" stroke="#f2f6fa" stroke-width="2.6"/>
<polyline points="718.9,265.8 725.8,267.5 730.0,272.6" fill="none" stroke="#f2f6fa" stroke-width="2"/>
<polyline points="612.7,503.0 613.9,509.9 616.7,516.7" fill="none" stroke="#f2f6fa" stroke-width="1.2"/>
<polyline points="526.9,422.3 527.8,448.1 512.3,449.4 502.9,445.5" fill="none" stroke="#7d9fd6" stroke-width="0.7"/>
<polyline points="550.9,439.5 550.1,449.8 541.5,451.5 532.9,453.2 530.3,457.5" fill="none" stroke="#7d9fd6" stroke-width="0.7"/>
<polyline points="512.3,449.4 515.8,458.4 522.6,462.7 529.5,463.5 530.3,457.5 534.6,454.9 541.5,451.5" fill="none" stroke="#7d9fd6" stroke-width="0.7"/>
<polyline points="579.3,430.9 577.6,451.5 575.0,455.3" fill="none" stroke="#7d9fd6" stroke-width="0.7"/>
<polyline points="550.1,449.8 550.1,456.7 558.7,454.1 567.3,454.9 575.0,455.8 572.4,465.2 567.3,472.1 563.8,479.3" fill="none" stroke="#7d9fd6" stroke-width="0.7"/>
<polyline points="599.0,438.6 597.3,449.8 594.7,456.7 599.9,465.2 594.7,463.9 586.1,467.0 577.6,468.7 575.0,463.5 576.7,457.5" fill="none" stroke="#7d9fd6" stroke-width="0.7"/>
<polyline points="599.9,465.2 610.2,464.4 620.5,460.1 625.6,467.0 622.2,468.7 625.6,458.4 629.1,449.8" fill="none" stroke="#7d9fd6" stroke-width="0.7"/>
<polyline points="645.4,459.2 649.7,468.7 657.4,470.4 649.7,478.1 641.9,481.0 635.9,480.3 625.6,479.3 622.2,468.7" fill="none" stroke="#7d9fd6" stroke-width="0.7"/>
<polyline points="577.6,468.7 577.6,475.5 586.1,479.0 596.4,476.4 606.7,478.1 617.0,480.7 625.6,479.3" fill="none" stroke="#7d9fd6" stroke-width="0.7"/>
<polyline points="577.6,475.5 582.7,489.3 579.3,499.6 572.4,503.9" fill="none" stroke="#7d9fd6" stroke-width="0.7"/>
<polyline points="572.4,507.3 582.7,508.2 586.1,518.5 594.7,520.2 599.9,523.6 610.2,520.2 613.6,527.0 612.2,517.1 616.2,516.7 621.3,518.5" fill="none" stroke="#7d9fd6" stroke-width="0.7"/>
<polyline points="594.7,521.0 594.7,535.6 608.5,537.3" fill="none" stroke="#7d9fd6" stroke-width="0.7"/>
<polyline points="617.0,480.7 616.2,495.3" fill="none" stroke="#7d9fd6" stroke-width="0.7"/>
<polyline points="626.5,495.8 637.6,503.3" fill="none" stroke="#7d9fd6" stroke-width="0.7"/>
<polyline points="625.6,522.7 632.5,522.2 638.5,520.2" fill="none" stroke="#7d9fd6" stroke-width="0.7"/>
<polyline points="641.9,481.5 641.9,493.6" fill="none" stroke="#7d9fd6" stroke-width="0.7"/>
<polyline points="547.5,474.7 549.2,459.2" fill="none" stroke="#7d9fd6" stroke-width="0.7"/>
<polyline points="529.5,463.5 529.5,475.5" fill="none" stroke="#7d9fd6" stroke-width="0.7"/>
<polyline points="515.8,458.4 510.6,467.8" fill="none" stroke="#7d9fd6" stroke-width="0.7"/>
<polyline points="522.6,462.7 520.9,475.5" fill="none" stroke="#7d9fd6" stroke-width="0.7"/>
<polyline points="504.6,460.1 512.3,456.7 515.8,458.4" fill="none" stroke="#7d9fd6" stroke-width="0.7"/>
<polyline points="616.2,516.7 613.9,509.9 612.7,503.0 613.9,499.9" fill="none" stroke="#7d9fd6" stroke-width="0.7"/>
<polyline points="610.2,464.4 608.5,473.8 617.0,480.7" fill="none" stroke="#7d9fd6" stroke-width="0.7"/>
<polyline points="601.6,405.2 601.6,431.8" fill="none" stroke="#eef5fd" stroke-width="0.7"/>
<polyline points="563.8,406.9 565.5,418.9 569.0,428.3 577.6,429.2 579.3,430.9" fill="none" stroke="#eef5fd" stroke-width="0.7"/>
<polyline points="512.3,414.1 524.3,410.3 526.9,405.2" fill="none" stroke="#eef5fd" stroke-width="0.7"/>
<polyline points="526.9,422.3 520.9,418.5" fill="none" stroke="#eef5fd" stroke-width="0.7"/>
<polyline points="541.5,431.8 550.9,439.5 560.4,434.3" fill="none" stroke="#eef5fd" stroke-width="0.7"/>
<polyline points="567.5,308.7 570.1,296.7 578.7,282.9 590.7,269.2 599.3,265.8" fill="none" stroke="#fbe4e5" stroke-width="0.7"/>
<polyline points="600.6,281.7 599.3,265.8 606.1,262.3 613.0,259.7" fill="none" stroke="#fbe4e5" stroke-width="0.7"/>
<polyline points="613.0,303.9 616.4,294.9 613.0,282.9 611.3,270.9 614.7,263.2" fill="none" stroke="#fbe4e5" stroke-width="0.7"/>
<polyline points="607.9,306.1 609.6,315.5 611.3,322.4 616.4,329.3 619.9,336.1 628.5,341.3 637.0,344.7 637.9,354.2" fill="none" stroke="#fbe4e5" stroke-width="0.7"/>
<polyline points="574.4,326.7 576.1,336.1 577.0,341.3 570.1,344.7 561.5,349.9" fill="none" stroke="#fbe4e5" stroke-width="0.7"/>
<polyline points="592.4,325.8 595.8,331.0 597.6,339.6 595.8,343.0 606.1,346.4 613.0,356.7 609.6,363.6" fill="none" stroke="#fbe4e5" stroke-width="0.7"/>
<polyline points="557.2,333.6 558.1,343.0 559.8,349.9 561.5,356.7 558.9,363.6" fill="none" stroke="#fbe4e5" stroke-width="0.7"/>
<polyline points="577.0,341.3 583.8,344.7 595.8,343.0" fill="none" stroke="#fbe4e5" stroke-width="0.7"/>
<polyline points="561.5,349.9 570.1,351.6 578.7,349.9 583.8,344.7" fill="none" stroke="#fbe4e5" stroke-width="0.7"/>
<polyline points="611.3,322.4 602.7,320.7 592.4,325.8" fill="none" stroke="#fbe4e5" stroke-width="0.7"/>
<polyline points="539.4,366.3 546.6,368.3" fill="none" stroke="#fbe4e5" stroke-width="0.7"/>
<polyline points="523.4,367.5 522.4,384.3" fill="none" stroke="#fbe4e5" stroke-width="0.7"/>
<polyline points="561.5,363.2 566.7,360.6 572.8,362.1" fill="none" stroke="#fbe4e5" stroke-width="0.7"/>
<polyline points="578.7,360.6 585.5,358.9 592.4,362.3 602.7,360.6 606.1,365.8 602.7,372.6" fill="none" stroke="#fbe4e5" stroke-width="0.7"/>
<polyline points="588.8,374.5 595.8,374.3 599.1,375.0" fill="none" stroke="#fbe4e5" stroke-width="0.7"/>
<polyline points="830.8,352.4 832.2,343.0 835.6,333.6 842.5,332.7 849.4,339.6 854.5,346.4 861.4,351.6 865.7,349.9 864.8,358.5 860.5,360.2 857.9,367.0 852.8,372.2 847.6,375.6" fill="none" stroke="#fbe4e5" stroke-width="0.7"/>
<polyline points="750.6,347.3 754.9,347.3" fill="none" stroke="#fbe4e5" stroke-width="0.7"/>
</g></g>
<!-- legend -->
<g>
<rect x="158" y="563" width="18.5" height="18.5" fill="#0e3b7e"/>
<rect x="158" y="597" width="18.5" height="18.5" fill="#138bf2"/>
<rect x="158" y="631" width="18.5" height="18.5" fill="#9dccf7"/>
<rect x="158" y="665" width="18.5" height="18.5" fill="#f5aaae"/>
<rect x="158" y="699" width="18.5" height="18.5" fill="#e6332a"/>
<g font-size="25.4" fill="#16293d">
<text x="187" y="581" textLength="170" lengthAdjust="spacingAndGlyphs">4.0 and higher</text>
<text x="187" y="615" textLength="84" lengthAdjust="spacingAndGlyphs">3.0-3.9</text>
<text x="187" y="649" textLength="84" lengthAdjust="spacingAndGlyphs">2.0-2.9</text>
<text x="187" y="683" textLength="82" lengthAdjust="spacingAndGlyphs">1.0-1.9</text>
<text x="187" y="717" textLength="114" lengthAdjust="spacingAndGlyphs">Below 1.0</text>
</g>
<text x="159" y="772" font-size="18.5" fill="#5a6b7c" textLength="166" lengthAdjust="spacingAndGlyphs">Source: World Bank</text>
</g>
<!-- cc icons -->
<g fill="none" stroke="#c5cbd3" stroke-width="3.5">
<circle cx="179.8" cy="824.6" r="19.2"/>
<circle cx="232.5" cy="824.6" r="19.2"/>
<circle cx="285.1" cy="824.6" r="19.2"/>
</g>
<text class="b" x="179.9" y="831.2" font-size="24.6" fill="#c5cbd3" stroke="#c5cbd3" stroke-width="0.8" text-anchor="middle" textLength="24.4" lengthAdjust="spacingAndGlyphs">cc</text>
<g fill="#c5cbd3">
<circle cx="232.5" cy="813.9" r="2.9"/>
<path d="M226.3 818.2h12v11h-2.4v9.1h-7.2v-9.1h-2.4z"/>
<rect x="277.1" y="820" width="16" height="3.8"/>
<rect x="277.1" y="826.5" width="16" height="3.8"/>
</g>
<!-- bar chart box -->
<rect x="483" y="625" width="311" height="146" rx="7" fill="#b3bcc6"/>
<rect x="476" y="618" width="310.5" height="145" rx="7" fill="#ffffff"/>
<text class="b" x="487" y="643.8" font-size="22.5" fill="#0f2741" textLength="208" lengthAdjust="spacingAndGlyphs">Global fertility rate</text>
<rect x="532" y="656" width="242" height="29.2" fill="#0e3b7e"/>
<rect x="532" y="689.4" width="137.2" height="28.8" fill="#138bf2"/>
<rect x="532" y="722.2" width="105" height="28.8" fill="#9dccf7"/>
<g font-size="18" fill="#16293d">
<text x="487" y="677" textLength="39" lengthAdjust="spacingAndGlyphs">1963</text>
<text x="487" y="710" textLength="39" lengthAdjust="spacingAndGlyphs">1992</text>
<text x="487" y="743" textLength="39" lengthAdjust="spacingAndGlyphs">2021</text>
</g>
<g class="b" font-size="20.5" fill="#ffffff">
<text x="737" y="678" textLength="30" lengthAdjust="spacingAndGlyphs">5.3</text>
<text x="633" y="711" textLength="30" lengthAdjust="spacingAndGlyphs">3.0</text>
<text x="600" y="744" textLength="30" lengthAdjust="spacingAndGlyphs">2.3</text>
</g>
<!-- statista logo -->
<g transform="translate(760.6 845) scale(0.73 1)">
<text class="b" x="0" y="0" font-size="64" fill="#0f2741" stroke="#0f2741" stroke-width="1.4">statista</text>
</g>
<g transform="translate(937 803.2) scale(42.4)">
<rect x="0" y="0" width="1" height="1" rx="0.03" fill="#0f2741"/>
<path d="M-0.02 0.672C0.30 0.672 0.36 0.47 0.47 0.32C0.58 0.17 0.72 0.104 1.02 0.104V0.34C0.78 0.34 0.68 0.45 0.58 0.60C0.46 0.78 0.32 0.89 -0.02 0.89Z" fill="#f2f6fa"/>
</g>
</svg>
</body>
</html>
